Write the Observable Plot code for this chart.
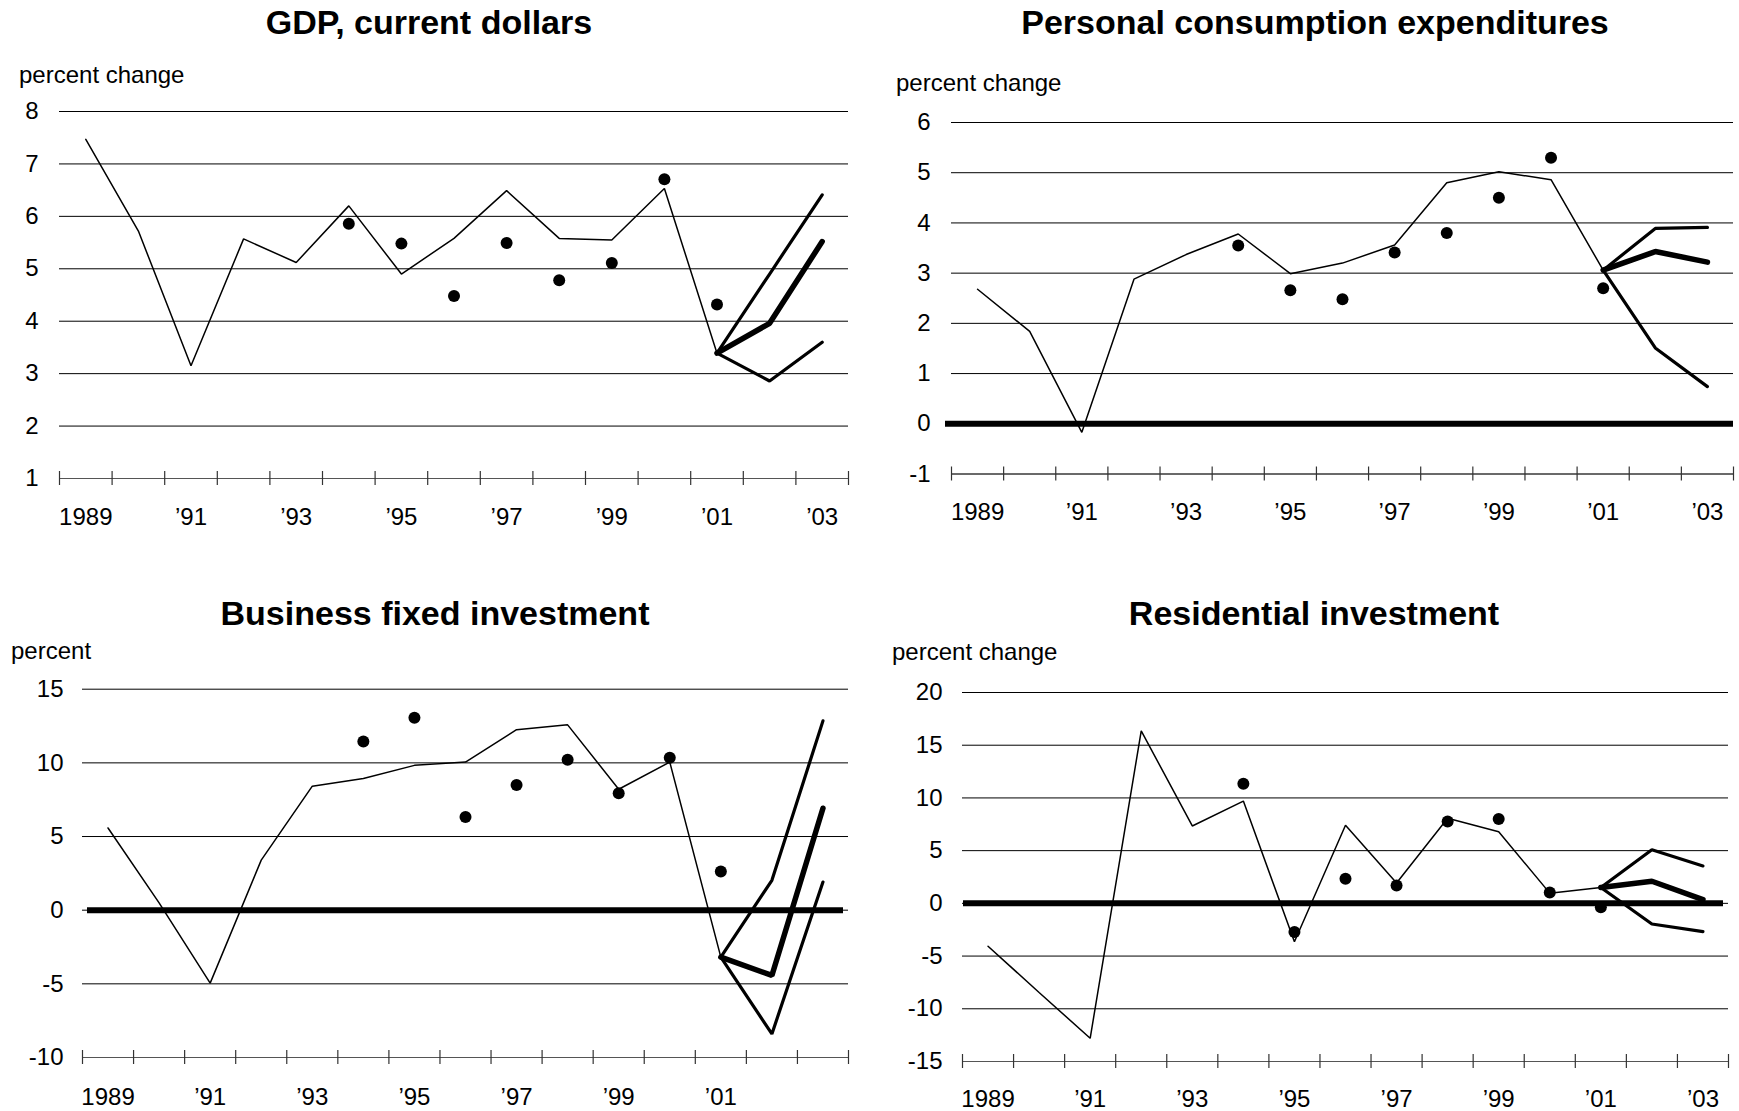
<!DOCTYPE html>
<html>
<head>
<meta charset="utf-8">
<script src="https://cdn.jsdelivr.net/npm/d3@7"></script>
<script src="https://cdn.jsdelivr.net/npm/@observablehq/plot@0.6"></script>
<style>
  html, body { margin: 0; padding: 0; background: #fff; }
  #root { position: relative; width: 1739px; height: 1111px; overflow: hidden; font-family: "Liberation Sans", Arial, sans-serif; color: #000; }
  .title { position: absolute; font-weight: bold; font-size: 34px; line-height: 34px; white-space: nowrap; transform: translateX(-50%); }
  .ylab { position: absolute; font-size: 24px; line-height: 24px; white-space: nowrap; }
  .panel { position: absolute; }
</style>
</head>
<body>
<div id="root"></div>
<script>
// ---------- data ----------
const years = [1989, 1990, 1991, 1992, 1993, 1994, 1995, 1996, 1997, 1998, 1999, 2000, 2001];
const forecastYears = [2001, 2002, 2003];
const dotYears = [1994, 1995, 1996, 1997, 1998, 1999, 2000, 2001];
const labelYearsFull = [1989, 1991, 1993, 1995, 1997, 1999, 2001, 2003];
const labelYearsShort = [1989, 1991, 1993, 1995, 1997, 1999, 2001];

// GDP, current dollars
const gdpActual = [7.47, 5.72, 3.15, 5.57, 5.12, 6.20, 4.90, 5.58, 6.49, 5.58, 5.55, 6.53, 3.39];
const gdpHigh = [3.39, 4.90, 6.41];
const gdpMid = [3.39, 3.96, 5.52];
const gdpLow = [3.39, 2.86, 3.60];
const gdpDots = [5.86, 5.48, 4.48, 5.49, 4.78, 5.11, 6.71, 4.32];
const gdpTicks = [1, 2, 3, 4, 5, 6, 7, 8];

// Personal consumption expenditures
const pceActual = [2.68, 1.84, -0.17, 2.88, 3.37, 3.78, 2.99, 3.20, 3.56, 4.80, 5.02, 4.86, 3.06];
const pceHigh = [3.06, 3.89, 3.91];
const pceMid = [3.06, 3.43, 3.22];
const pceLow = [3.06, 1.51, 0.74];
const pceDots = [3.55, 2.66, 2.48, 3.41, 3.80, 4.50, 5.30, 2.70];
const pceTicks = [-1, 0, 1, 2, 3, 4, 5, 6];

// Business fixed investment
const bfiActual = [5.58, 0.50, -4.95, 3.40, 8.42, 8.94, 9.83, 10.05, 12.25, 12.58, 8.21, 10.05, -3.19];
const bfiHigh = [-3.19, 2.03, 12.85];
const bfiMid = [-3.19, -4.43, 6.92];
const bfiLow = [-3.19, -8.40, 1.91];
const bfiDots = [11.45, 13.07, 6.33, 8.49, 10.21, 7.93, 10.35, 2.62];
const bfiTicks = [-10, -5, 0, 5, 10, 15];

// Residential investment
const resActual = [-4.07, -8.45, -12.8, 16.36, 7.34, 9.70, -3.64, 7.41, 1.93, 8.07, 6.79, 0.97, 1.50];
const resHigh = [1.50, 5.09, 3.55];
const resMid = [1.50, 2.10, 0.35];
const resLow = [1.50, -1.96, -2.68];
const resDots = [11.34, -2.72, 2.33, 1.70, 7.77, 8.00, 1.04, -0.38];
const resTicks = [-15, -10, -5, 0, 5, 10, 15, 20];

const titles = ["GDP, current dollars", "Personal consumption expenditures", "Business fixed investment", "Residential investment"];
const yUnits = ["percent change", "percent change", "percent", "percent change"];

// ---------- layout ----------
const root = document.getElementById("root");
const edges = d3.range(years[0] - 0.5, forecastYears[2] + 1, 1);
const fmtYear = d => d === 1989 ? "1989" : "\u2019" + String(d).slice(2);

function addText(cls, text, left, top) {
  const el = document.createElement("div");
  el.className = cls;
  el.textContent = text;
  el.style.left = left + "px";
  el.style.top = top + "px";
  root.appendChild(el);
}

function panel(cfg) {
  const plotH = cfg.height - cfg.mt - cfg.mb;
  const marks = [
    Plot.gridY(cfg.ticks, {stroke: "#000", strokeOpacity: 1, strokeWidth: 1}),
    Plot.ruleY([cfg.ticks[0]], {stroke: "#555", strokeWidth: 1.2}),
    Plot.tickX(edges, {x: d => d, insetTop: plotH - 7, insetBottom: -7, stroke: "#333", strokeWidth: 1.2}),
  ];
  if (cfg.zero) {
    marks.push(Plot.ruleY([0], {stroke: "#000", strokeWidth: 6, insetLeft: cfg.zeroL, insetRight: cfg.zeroR, strokeLinecap: "butt"}));
  }
  marks.push(
    Plot.line(cfg.actual, {x: years, y: cfg.actual, stroke: "#000", strokeWidth: 1.5, strokeLinejoin: "miter"}),
    Plot.line(cfg.high, {x: forecastYears, y: cfg.high, stroke: "#000", strokeWidth: 3.2, strokeLinejoin: "miter"}),
    Plot.line(cfg.low, {x: forecastYears, y: cfg.low, stroke: "#000", strokeWidth: 3.2, strokeLinejoin: "miter"}),
    Plot.line(cfg.mid, {x: forecastYears, y: cfg.mid, stroke: "#000", strokeWidth: 5.5, strokeLinejoin: "miter"}),
    Plot.dot(cfg.dots, {x: dotYears, y: cfg.dots, r: 6, fill: "#000", stroke: null}),
    Plot.axisY({ticks: cfg.ticks, tickSize: 0, tickPadding: cfg.yPad, tickFormat: d => String(d), fontSize: 24, anchor: "left"}),
    Plot.axisX({ticks: cfg.labels, tickSize: 0, tickPadding: cfg.xPad, tickFormat: fmtYear, fontSize: 24, anchor: "bottom"})
  );
  const svg = Plot.plot({
    width: cfg.width,
    height: cfg.height,
    marginLeft: cfg.ml,
    marginRight: cfg.mr,
    marginTop: cfg.mt,
    marginBottom: cfg.mb,
    x: {domain: [edges[0], edges[edges.length - 1]], axis: null},
    y: {domain: cfg.domain, axis: null},
    style: {fontFamily: "'Liberation Sans', Arial, sans-serif", fontSize: "24px", background: "transparent", overflow: "visible", color: "#000"},
    marks
  });
  const wrap = document.createElement("div");
  wrap.className = "panel";
  wrap.style.left = cfg.left + "px";
  wrap.style.top = cfg.top + "px";
  wrap.appendChild(svg);
  root.appendChild(wrap);
}

// GDP
panel({left: 0, top: 95, width: 870, height: 460, ml: 59, mr: 22, mt: 16, mb: 77,
  domain: [1, 8], ticks: gdpTicks, actual: gdpActual, high: gdpHigh, mid: gdpMid, low: gdpLow, dots: gdpDots,
  labels: labelYearsFull, yPad: 21, xPad: 29.5, zero: false});
// PCE
panel({left: 870, top: 95, width: 869, height: 460, ml: 81, mr: 6, mt: 27, mb: 81.5,
  domain: [-1, 6], ticks: pceTicks, actual: pceActual, high: pceHigh, mid: pceMid, low: pceLow, dots: pceDots,
  labels: labelYearsFull, yPad: 21, xPad: 29, zero: true, zeroL: -6, zeroR: 0});
// BFI
panel({left: 0, top: 660, width: 870, height: 451, ml: 82, mr: 22, mt: 28.7, mb: 54,
  domain: [-10, 15], ticks: bfiTicks, actual: bfiActual, high: bfiHigh, mid: bfiMid, low: bfiLow, dots: bfiDots,
  labels: labelYearsShort, yPad: 19, xPad: 30.5, zero: true, zeroL: 5, zeroR: 5});
// Residential
panel({left: 870, top: 660, width: 869, height: 451, ml: 92, mr: 11, mt: 32, mb: 50,
  domain: [-15, 20], ticks: resTicks, actual: resActual, high: resHigh, mid: resMid, low: resLow, dots: resDots,
  labels: labelYearsFull, yPad: 20, xPad: 28.6, zero: true, zeroL: 1, zeroR: 5});

// titles and unit labels
addText("title", titles[0], 429, 5);
addText("title", titles[1], 1315, 5);
addText("title", titles[2], 435, 596);
addText("title", titles[3], 1314, 596);
addText("ylab", yUnits[0], 19, 63);
addText("ylab", yUnits[1], 896, 71);
addText("ylab", yUnits[2], 11, 639);
addText("ylab", yUnits[3], 892, 640);
</script>
</body>
</html>
